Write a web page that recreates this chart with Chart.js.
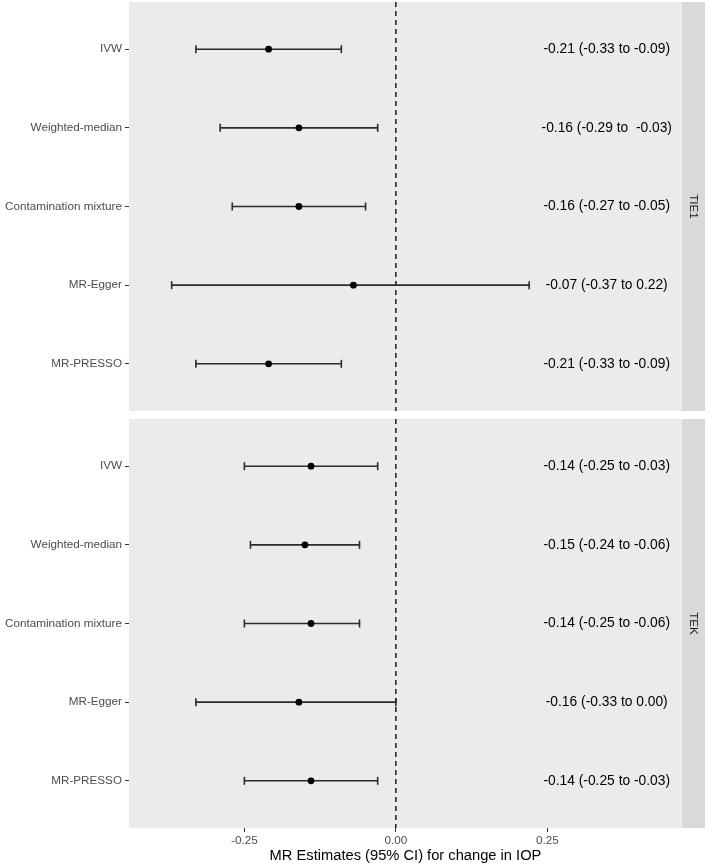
<!DOCTYPE html>
<html>
<head>
<meta charset="utf-8">
<script src="https://cdn.jsdelivr.net/npm/chart.js@4.4.1/dist/chart.umd.min.js"></script>
<style>
  html, body { margin: 0; padding: 0; background: #ffffff; }
  #wrap { position: relative; width: 708px; height: 865px; overflow: hidden; }
  canvas { position: absolute; left: 0; }
</style>
</head>
<body>
<div id="wrap">
  <canvas id="top" width="708" height="411" style="top:0px;width:708px;height:411px"></canvas>
  <canvas id="bot" width="708" height="446" style="top:419px;width:708px;height:446px"></canvas>
</div>
<script>
// ---- data ----
const methods = ['IVW', 'Weighted-median', 'Contamination mixture', 'MR-Egger', 'MR-PRESSO'];
const panelNames = ['TIE1', 'TEK'];

const tie1Est  = [-0.21, -0.16, -0.16, -0.07, -0.21];
const tie1Low  = [-0.33, -0.29, -0.27, -0.37, -0.33];
const tie1High = [-0.09, -0.03, -0.05,  0.22, -0.09];
const tie1Text = ['-0.21 (-0.33 to -0.09)', '-0.16 (-0.29 to  -0.03)', '-0.16 (-0.27 to -0.05)', '-0.07 (-0.37 to 0.22)', '-0.21 (-0.33 to -0.09)'];

const tekEst  = [-0.14, -0.15, -0.14, -0.16, -0.14];
const tekLow  = [-0.25, -0.24, -0.25, -0.33, -0.25];
const tekHigh = [-0.03, -0.06, -0.06,  0.00, -0.03];
const tekText = ['-0.14 (-0.25 to -0.03)', '-0.15 (-0.24 to -0.06)', '-0.14 (-0.25 to -0.06)', '-0.16 (-0.33 to 0.00)', '-0.14 (-0.25 to -0.03)'];

const xTicks = [-0.25, 0, 0.25];
const xTitle = 'MR Estimates (95% CI) for change in IOP';
const xMin = -0.4404, xMax = 0.4722;
const textX = 0.348;   // data-x where the estimate text is centred

const FONT = "'Liberation Sans', Arial, Helvetica, sans-serif";

function buildDatasets(est, low, high) {
  const ds = [];
  ds.push({
    type: 'line',
    data: [{x: 0, y: 0.4}, {x: 0, y: 5.6}],
    borderColor: '#1a1a1a', borderWidth: 1.5, borderDash: [5, 4],
    pointRadius: 0, fill: false, order: 3
  });
  for (let i = 0; i < methods.length; i++) {
    ds.push({
      type: 'line',
      data: [{x: low[i], y: i + 1}, {x: high[i], y: i + 1}],
      borderColor: '#2b2b2b', borderWidth: 1.6,
      pointStyle: 'line', rotation: 90, pointRadius: 4,
      pointBorderWidth: 1.6, pointBorderColor: '#2b2b2b',
      fill: false, order: 2
    });
  }
  ds.push({
    type: 'scatter',
    data: est.map((v, i) => ({x: v, y: i + 1})),
    backgroundColor: '#000000', borderColor: '#000000',
    pointRadius: 3.4, pointBorderWidth: 0, order: 1
  });
  return ds;
}

function panelPlugin(labelTexts, stripName) {
  return {
    id: 'panel_' + stripName,
    beforeDraw(chart) {
      const {ctx, chartArea: a} = chart;
      ctx.save();
      ctx.fillStyle = '#ebebeb';
      ctx.fillRect(a.left, a.top, a.right - a.left, a.bottom - a.top);
      // strip
      ctx.fillStyle = '#d9d9d9';
      ctx.fillRect(a.right, a.top, 23, a.bottom - a.top);
      ctx.translate(a.right + 11.5, (a.top + a.bottom) / 2);
      ctx.rotate(Math.PI / 2);
      ctx.fillStyle = '#1a1a1a';
      ctx.font = '11.7px ' + FONT;
      ctx.textAlign = 'center';
      ctx.textBaseline = 'middle';
      ctx.fillText(stripName, 0, 0);
      ctx.restore();
    },
    afterDatasetsDraw(chart) {
      const {ctx} = chart;
      const xs = chart.scales.x, ys = chart.scales.y;
      ctx.save();
      ctx.fillStyle = '#000000';
      ctx.font = '13.8px ' + FONT;
      ctx.textAlign = 'center';
      ctx.textBaseline = 'middle';
      labelTexts.forEach((t, i) => {
        ctx.fillText(t, xs.getPixelForValue(textX), ys.getPixelForValue(i + 1));
      });
      ctx.restore();
    }
  };
}

function makeChart(id, est, low, high, texts, stripName, showX) {
  return new Chart(document.getElementById(id), {
    data: { datasets: buildDatasets(est, low, high) },
    options: {
      responsive: false,
      devicePixelRatio: 1,
      animation: false,
      layout: { autoPadding: false, padding: { left: 0, right: 26, top: showX ? 0 : 2, bottom: 0 } },
      plugins: { legend: { display: false }, tooltip: { enabled: false } },
      scales: {
        x: {
          type: 'linear', min: xMin, max: xMax,
          display: showX,
          afterBuildTicks: (s) => { s.ticks = xTicks.map(v => ({value: v})); },
          afterFit: (s) => {
            if (showX) s.height = 37;
            s.paddingLeft = 0; s.paddingRight = 0;
          },
          grid: { drawOnChartArea: false, drawTicks: true, tickLength: 4, color: '#333333', lineWidth: 1 },
          border: { display: false },
          ticks: {
            padding: 2, color: '#4d4d4d', maxRotation: 0, autoSkip: false,
            font: { family: FONT, size: 11.7 },
            callback: (v) => Number(v).toFixed(2)
          },
          title: {
            display: true, text: xTitle, color: '#000000',
            font: { family: FONT, size: 14.7 }, padding: { top: 0, bottom: 0 }
          }
        },
        y: {
          type: 'linear', min: 0.4, max: 5.6, reverse: true,
          afterBuildTicks: (s) => { s.ticks = methods.map((m, i) => ({value: i + 1})); },
          afterFit: (s) => { s.width = 129; s.paddingTop = 0; s.paddingBottom = 0; },
          grid: { drawOnChartArea: false, drawTicks: true, tickLength: 4, color: '#333333', lineWidth: 1 },
          border: { display: false },
          ticks: {
            padding: 3, color: '#4d4d4d', autoSkip: false,
            font: { family: FONT, size: 11.7 },
            callback: (v) => methods[Math.round(v) - 1]
          }
        }
      }
    },
    plugins: [panelPlugin(texts, stripName)]
  });
}

makeChart('top', tie1Est, tie1Low, tie1High, tie1Text, panelNames[0], false);
makeChart('bot', tekEst, tekLow, tekHigh, tekText, panelNames[1], true);
</script>
</body>
</html>
